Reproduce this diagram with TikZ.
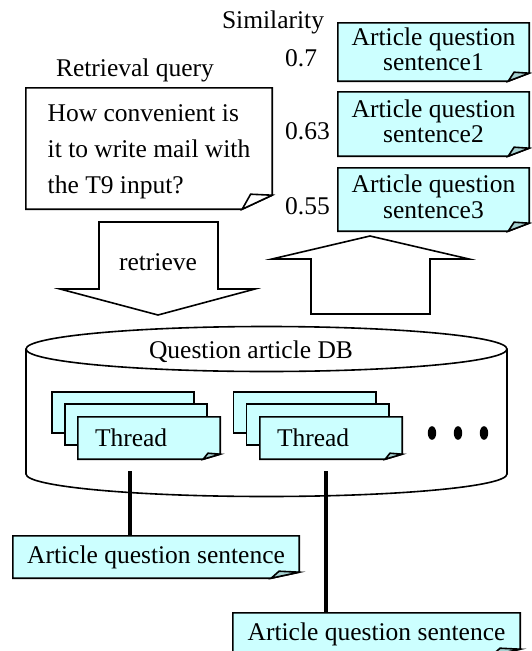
\documentclass[tikz,border=0pt]{standalone}
\usepackage{fontspec}
\setmainfont{Liberation Serif}
\usetikzlibrary{backgrounds}

\definecolor{paper}{HTML}{CCFFFF}
\definecolor{flap}{HTML}{A6D2D2}

\tikzset{
  outline/.style={draw=black, line width=1.6pt, line join=miter},
  lbl/.style={font=\fontsize{25.5}{29}\selectfont, inner sep=0pt},
  sentbox/.style={lbl, minimum width=191pt, align=center,
    font=\fontsize{25.5}{25.6}\selectfont},
  threadbox/.style={lbl, text width=108pt, inner xsep=17pt,
    minimum height=42pt, align=left},
  plainbox/.style={inner sep=0pt, minimum width=142pt, minimum height=41pt},
  notebox/.style={lbl, minimum width=286pt, minimum height=42pt},
  link/.style={line width=4pt},
  dot/.style={fill=black},
}

% sheet with a turned-down lower right corner, drawn behind node #1
% #2 sheet colour, #3 flap colour, #4 flap width, #5 flap height
\newcommand\dogear[5]{%
  \begin{scope}[on background layer]
    \path[outline, fill=#2] (#1.north west) -- (#1.north east)
      -- ([yshift=#5]#1.south east) -- ([xshift=-#4]#1.south east)
      -- (#1.south west) -- cycle;
    \path[outline, fill=#3] ([yshift=#5]#1.south east)
      -- ([xshift=-0.72*#4, yshift=#5+1pt]#1.south east)
      -- ([xshift=-#4]#1.south east) -- cycle;
  \end{scope}}
\newcommand\sheet[2]{%
  \begin{scope}[on background layer]
    \path[outline, fill=#2] (#1.north west) rectangle (#1.south east);
  \end{scope}}
% invisible struts used to nudge text blocks inside their boxes
\newcommand\upstrut{\rule{0pt}{24pt}}
\newcommand\downstrut{\rule[-6pt]{0pt}{6pt}}

\begin{document}
\begin{tikzpicture}[x=1pt, y=-1pt]
\useasboundingbox (0,0) rectangle (531,651);
\clip (0,0) rectangle (531,651);

% ---- query and ranked results ----
\node[lbl] (simlabel) at (273,22) {Similarity};
\node[lbl] (querylabel) at (135,70) {Retrieval query};

\node[lbl, align=left, font=\fontsize{25.5}{36}\selectfont,
      minimum width=246pt, minimum height=121pt] (query) at (149,148.5)
  {\upstrut How convenient is\\it to write mail with\\the T9 input?};
\dogear{query}{white}{white}{30pt}{14pt}

\node[sentbox, minimum height=58pt] (s1) at (433.5,52) {Article question\\sentence1\downstrut};
\node[sentbox, minimum height=64pt] (s2) at (433.5,124) {Article question\\sentence2\downstrut};
\node[sentbox, minimum height=63pt] (s3) at (433.5,199.5) {Article question\\sentence3\downstrut};
\dogear{s1}{paper}{flap}{21pt}{8pt}
\dogear{s2}{paper}{flap}{21pt}{8pt}
\dogear{s3}{paper}{flap}{21pt}{8pt}

\node[lbl, anchor=west] (v1) at (285,58) {0.7};
\node[lbl, anchor=west] (v2) at (285,131) {0.63};
\node[lbl, anchor=west] (v3) at (285,206) {0.55};

% ---- block arrows ----
\path[outline, fill=white] (99,222) -- (218,222) -- (218,289) -- (255,289)
  -- (158,315) -- (60,289) -- (99,289) -- cycle;
\node[lbl] (retrieve) at (158,262) {retrieve};

\path[outline, fill=white] (311,314) -- (311,259) -- (272,259) -- (370,236)
  -- (469,259) -- (430,259) -- (430,314) -- cycle;

% ---- database cylinder ----
\begin{scope}[on background layer]
  \path[outline, fill=white] (26,349) -- (26,474)
    arc[start angle=180, end angle=360, x radius=240.5pt, y radius=22.5pt]
    -- (507,349);
  \path[outline, fill=white] (266.5,349) ellipse [x radius=240.5pt, y radius=22.5pt];
\end{scope}
\node[lbl] (dbname) at (251,352) {Question article DB};

% ---- thread stacks ----
\node[plainbox] (ta1) at (123,412.5) {};
\node[plainbox] (ta2) at (136,424.5) {};
\node[threadbox] (ta3) at (149,438) {Thread};
\sheet{ta1}{paper}
\sheet{ta2}{paper}
\dogear{ta3}{paper}{flap}{17pt}{5pt}

\node[plainbox] (tb1) at (304.5,412.5) {};
\node[plainbox] (tb2) at (317.5,424.5) {};
\node[threadbox] (tb3) at (331,438) {Thread};
\sheet{tb1}{paper}
\sheet{tb2}{paper}
\dogear{tb3}{paper}{flap}{17pt}{5pt}

\fill[dot] (432,433) ellipse [x radius=4.2pt, y radius=6.8pt];
\fill[dot] (458,433) ellipse [x radius=4.2pt, y radius=6.8pt];
\fill[dot] (484,433) ellipse [x radius=4.2pt, y radius=6.8pt];

% ---- extracted sentences ----
\node[notebox] (ab1) at (156,557) {Article question sentence};
\node[notebox, minimum width=287pt] (ab2) at (376.5,634) {Article question sentence};
\dogear{ab1}{paper}{flap}{28pt}{6pt}
\dogear{ab2}{paper}{flap}{28pt}{6pt}

\coordinate (c1) at (130,471);
\coordinate (c2) at (325.5,471);
\draw[link] (c1) -- (c1 |- ab1.north);
\draw[link] (c2) -- (c2 |- ab2.north);
\end{tikzpicture}
\end{document}
